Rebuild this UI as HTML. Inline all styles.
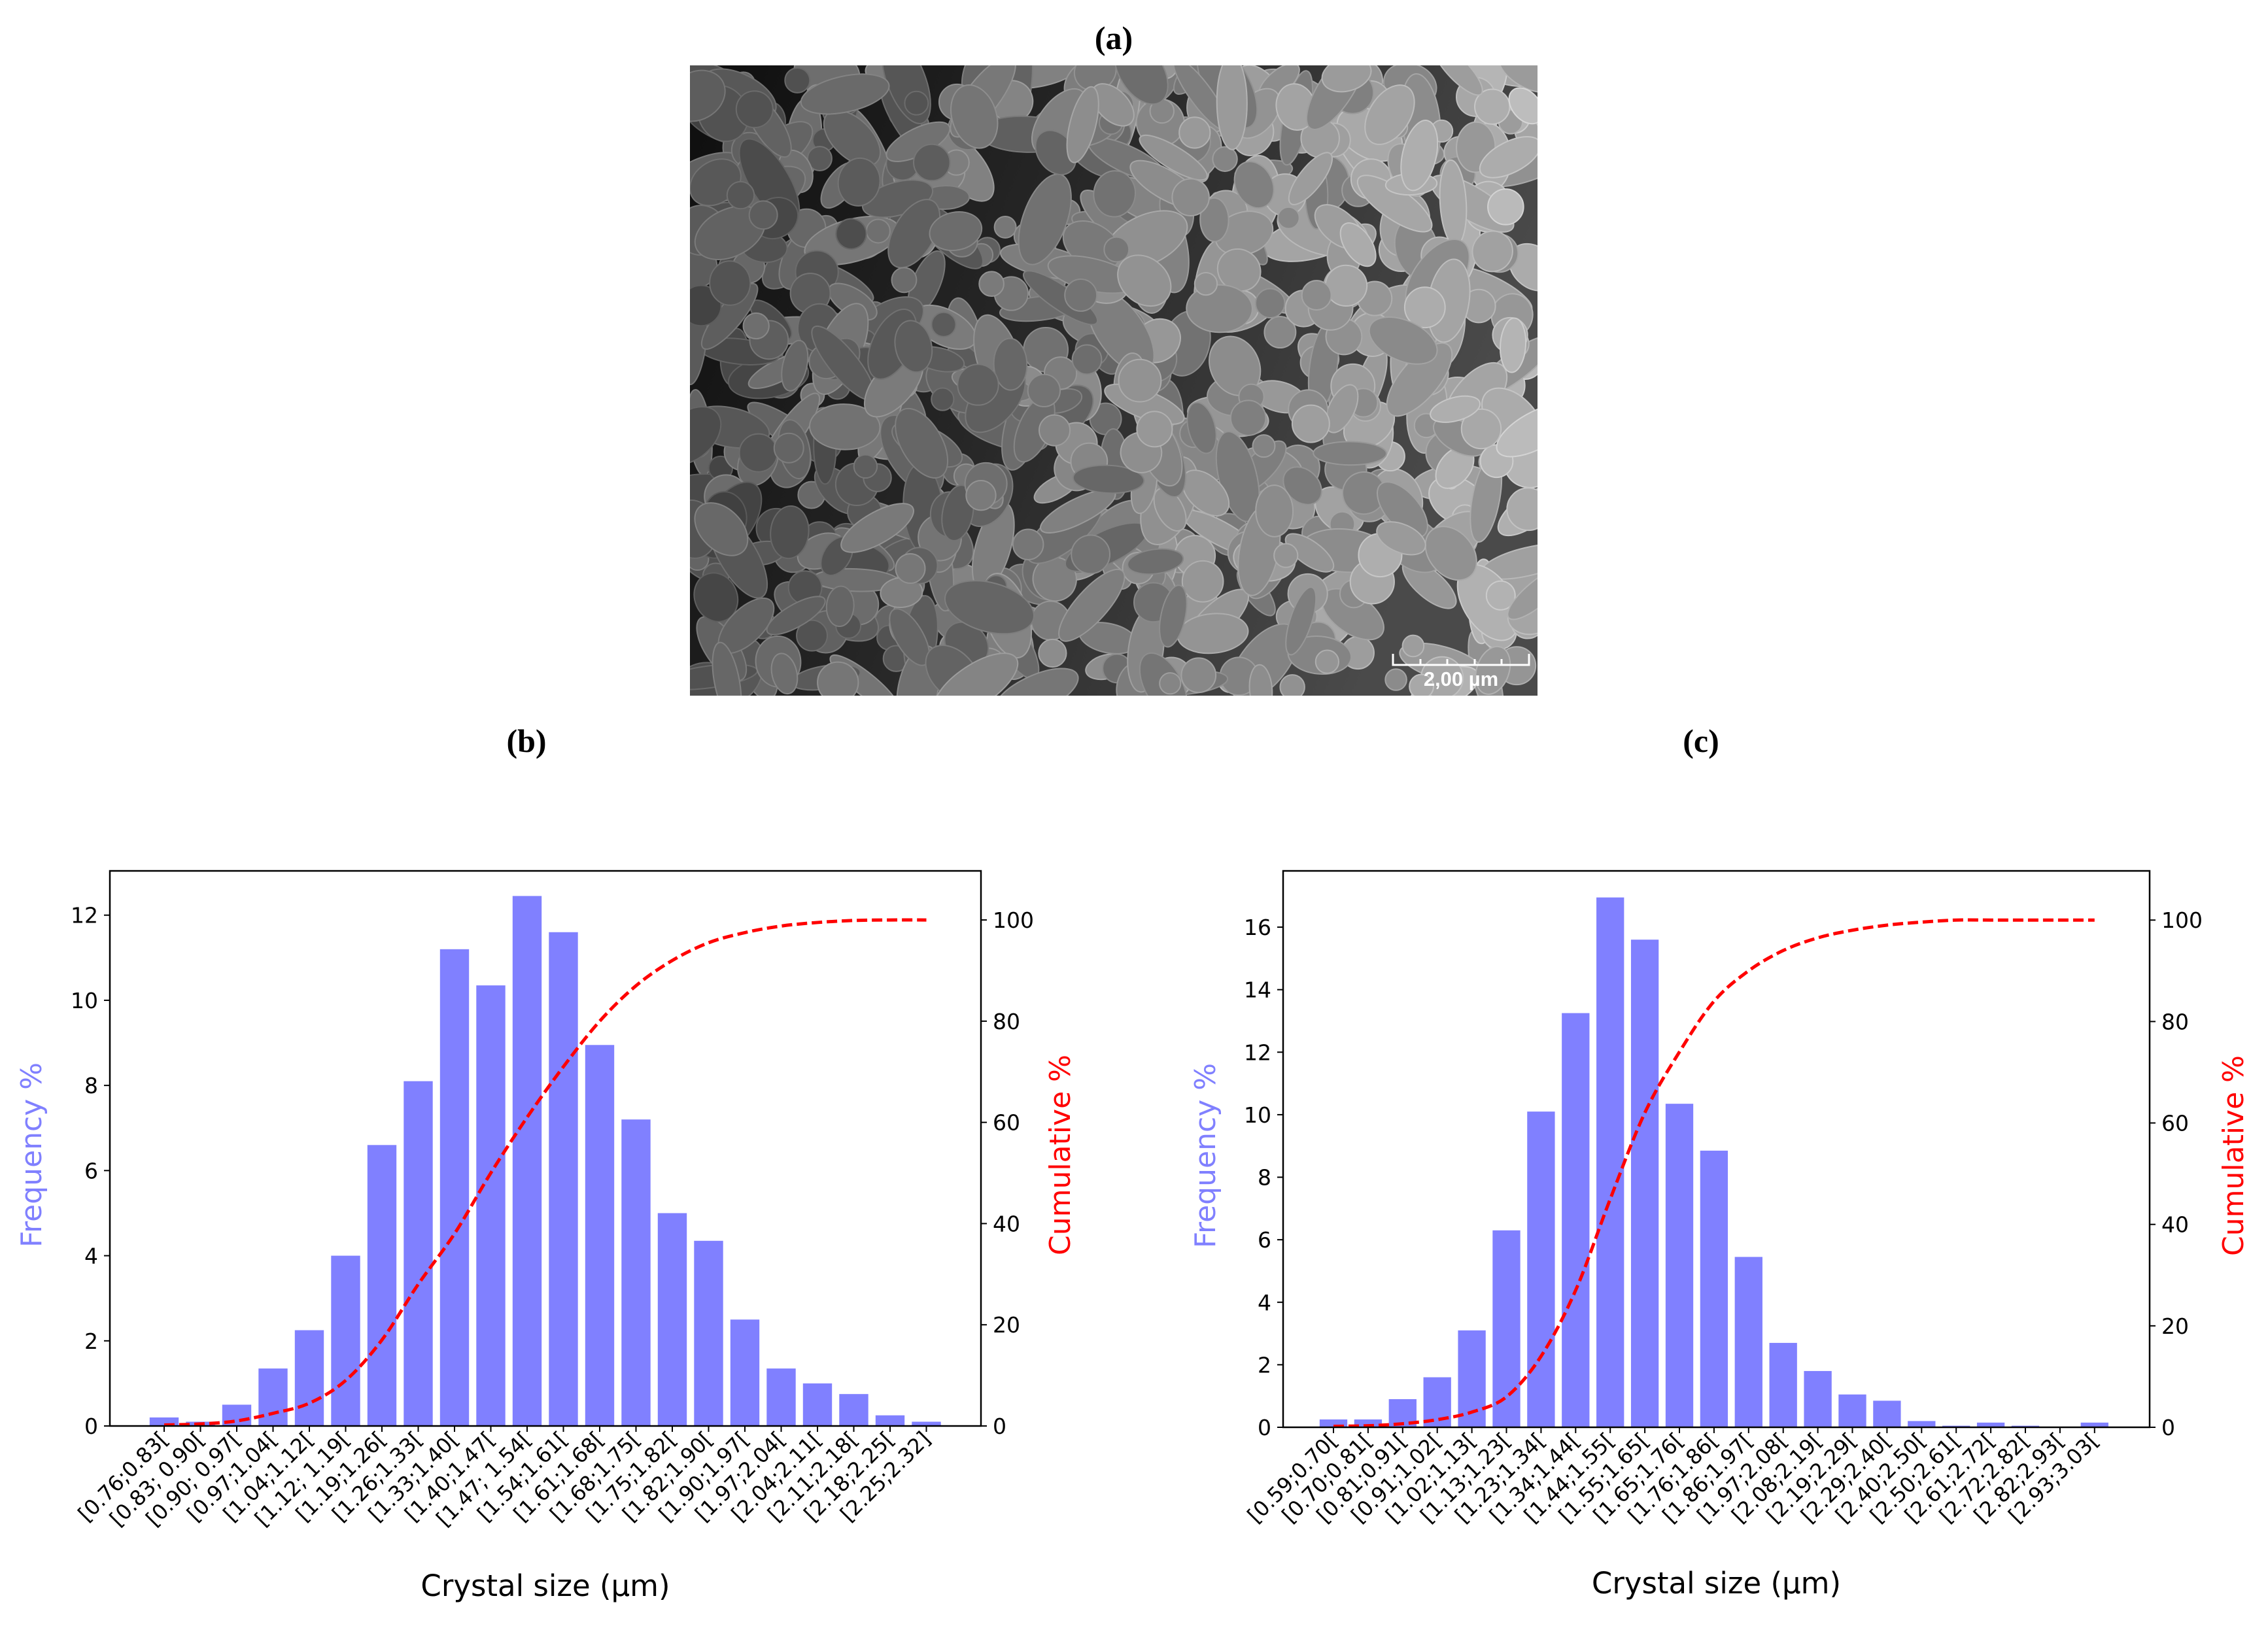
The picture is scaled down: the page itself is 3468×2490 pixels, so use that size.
<!DOCTYPE html>
<html><head><meta charset="utf-8"><style>
html,body{margin:0;padding:0;background:#fff;}
#root{position:relative;width:3468px;height:2490px;overflow:hidden;background:#fff;}
svg{position:absolute;left:0;top:0;}
</style></head><body>
<div id="root">
<svg id="fig" width="3468" height="2490" viewBox="0 0 3468 2490" xmlns="http://www.w3.org/2000/svg">
<defs>
<linearGradient id="semg" x1="0" y1="0" x2="1" y2="0.3">
<stop offset="0" stop-color="#0e0e0e"/><stop offset="0.45" stop-color="#262626"/><stop offset="1" stop-color="#4a4a4a"/>
</linearGradient>
<clipPath id="semclip"><rect x="1055" y="100" width="1296" height="964"/></clipPath>
</defs>
<text x="1703" y="75" font-family="Liberation Serif, serif" font-weight="bold" font-size="50" text-anchor="middle">(a)</text>
<text x="805" y="1150" font-family="Liberation Serif, serif" font-weight="bold" font-size="50" text-anchor="middle">(b)</text>
<text x="2601" y="1150" font-family="Liberation Serif, serif" font-weight="bold" font-size="50" text-anchor="middle">(c)</text>
<g id="sem">
<rect x="1055" y="100" width="1296" height="964" fill="url(#semg)"/>
<g id="semshapes" clip-path="url(#semclip)"></g>
<g stroke="#fff" stroke-width="3" fill="none">
<path d="M2130 1000 V1017 H2338 V1000 M2172 1017 V1008 M2213 1017 V1008 M2255 1017 V1008 M2296 1017 V1008"/>
</g>
<text x="2234" y="1049" font-family="Liberation Sans, sans-serif" font-size="31" font-weight="bold" fill="#fff" text-anchor="middle">2,00 µm</text>
</g>
<g id="chartB"></g>
<g id="chartC"></g>
</svg>
</div>
<script>
// Chart (b) data
const catsB = ["[0.76;0.83[","[0.83; 0.90[","[0.90; 0.97[","[0.97;1.04[","[1.04;1.12[","[1.12; 1.19[","[1.19;1.26[","[1.26;1.33[","[1.33;1.40[","[1.40;1.47[","[1.47; 1.54[","[1.54;1.61[","[1.61;1.68[","[1.68;1.75[","[1.75;1.82[","[1.82;1.90[","[1.90;1.97[","[1.97;2.04[","[2.04;2.11[","[2.11;2.18[","[2.18;2.25[","[2.25;2.32]"];
const freqB = [0.2,0.1,0.5,1.35,2.25,4.0,6.6,8.1,11.2,10.35,12.45,11.6,8.95,7.2,5.0,4.35,2.5,1.35,1.0,0.75,0.25,0.1];
const cumB = [0.2,0.4,1,2.5,4.5,9,17,28,38,50,61,71,80,87,92,95.5,97.5,98.8,99.5,99.9,100,100];
const yTicksB = [0,2,4,6,8,10,12];
// Chart (c) data
const catsC = ["[0.59;0.70[","[0.70;0.81[","[0.81;0.91[","[0.91;1.02[","[1.02;1.13[","[1.13;1.23[","[1.23;1.34[","[1.34;1.44[","[1.44;1.55[","[1.55;1.65[","[1.65;1.76[","[1.76;1.86[","[1.86;1.97[","[1.97;2.08[","[2.08;2.19[","[2.19;2.29[","[2.29;2.40[","[2.40;2.50[","[2.50;2.61[","[2.61;2.72[","[2.72;2.82[","[2.82;2.93[","[2.93;3.03["];
const freqC = [0.25,0.25,0.9,1.6,3.1,6.3,10.1,13.25,16.95,15.6,10.35,8.85,5.45,2.7,1.8,1.05,0.85,0.2,0.05,0.15,0.05,0,0.15];
const cumC = [0.2,0.3,0.7,1.5,3,6,14,27,45,62,74,84,90,94,96.5,98,99,99.6,100,100,100,100,100];
const yTicksC = [0,2,4,6,8,10,12,14,16];
const rTicks = [0,20,40,60,80,100];

const NS="http://www.w3.org/2000/svg";
function mk(tag,attrs,parent){const e=document.createElementNS(NS,tag);for(const k in attrs)e.setAttribute(k,attrs[k]);parent.appendChild(e);return e;}

// SEM decorative texture (deterministic)
(function(){
  const g=document.getElementById('semshapes');
  let s=7;function rnd(){s=(s*9301+49297)%233280;return s/233280;}
  for(let i=0;i<700;i++){
    const x=1055+rnd()*1296, y=100+rnd()*964;
    const t=(x-1055)/1296;
    const base=60+t*85+rnd()*45;
    const c=Math.round(base);
    const col='rgb('+c+','+c+','+c+')';
    if(rnd()<0.35){
      const r=16+rnd()*18;
      mk('circle',{cx:x,cy:y,r:r,fill:col,stroke:'rgb('+(c+25)+','+(c+25)+','+(c+25)+')','stroke-width':2},g);
    } else {
      const rx=30+rnd()*45, ry=16+rnd()*22, a=rnd()*180;
      mk('ellipse',{cx:x,cy:y,rx:rx,ry:ry,fill:col,stroke:'rgb('+(c+25)+','+(c+25)+','+(c+25)+')','stroke-width':2,transform:'rotate('+a+' '+x+' '+y+')'},g);
    }
  }
})();

function drawChart(gid, cfg){
  const g=document.getElementById(gid);
  const {L,R,T,B,ymax,cats,freq,cum,yTicks,x0,dx}=cfg;
  const ys=v=>B-(v/ymax)*(B-T);
  const yr=v=>B-(v/109.7)*(B-T);
  const xs=i=>x0+i*dx;
  const font='DejaVu Sans, Liberation Sans, sans-serif';
  freq.forEach((v,i)=>{
    const bw=dx*0.8;
    const r=mk('rect',{x:xs(i)-bw/2,y:ys(v),width:bw,height:B-ys(v),fill:'#8080ff'},g);
    
    
  });
  const pts=cum.map((v,i)=>[xs(i),yr(v)]);
  let d='M'+pts[0][0]+' '+pts[0][1];
  for(let i=0;i<pts.length-1;i++){
    const p0=pts[Math.max(0,i-1)],p1=pts[i],p2=pts[i+1],p3=pts[Math.min(pts.length-1,i+2)];
    d+=' C'+(p1[0]+(p2[0]-p0[0])/6)+' '+(p1[1]+(p2[1]-p0[1])/6)+' '+(p2[0]-(p3[0]-p1[0])/6)+' '+(p2[1]-(p3[1]-p1[1])/6)+' '+p2[0]+' '+p2[1];
  }
  const line=mk('path',{d:d,fill:'none',stroke:'#ff0000','stroke-width':5,'stroke-dasharray':'16,7'},g);
  
  
  const fr=mk('rect',{x:L,y:T,width:R-L,height:B-T,fill:'none',stroke:'#000','stroke-width':2.5},g);
  
  
  yTicks.forEach(v=>{
    mk('line',{x1:L-9,x2:L,y1:ys(v),y2:ys(v),stroke:'#000','stroke-width':2},g);
    const t=mk('text',{x:L-18,y:ys(v)+12,'font-family':font,'font-size':33,'text-anchor':'end',fill:'#000'},g);
    t.textContent=v;
    
    
  });
  rTicks.forEach(v=>{
    mk('line',{x1:R,x2:R+9,y1:yr(v),y2:yr(v),stroke:'#000','stroke-width':2},g);
    const t=mk('text',{x:R+18,y:yr(v)+12,'font-family':font,'font-size':33,'text-anchor':'start',fill:'#000'},g);
    t.textContent=v;
    
    
  });
  cats.forEach((c,i)=>{
    const x=xs(i);
    mk('line',{x1:x,x2:x,y1:B,y2:B+9,stroke:'#000','stroke-width':2},g);
    const t=mk('text',{x:x+8,y:B+22,'font-family':font,'font-size':32,'text-anchor':'end',fill:'#000',transform:'rotate(-45 '+(x+8)+' '+(B+22)+') scale(1,1.12)'},g);
    t.setAttribute('transform','rotate(-45 '+(x+8)+' '+(B+22)+')');
    t.textContent=c;
    
    
  });
  const xt=mk('text',{x:(L+R)/2,y:cfg.xtY,'font-family':font,'font-size':45,'text-anchor':'middle',fill:'#000'},g);
  xt.textContent='Crystal size (µm)';
  
  
  const cy=(T+B)/2+10;
  const yt=mk('text',{x:cfg.ylX,y:cy,'font-family':font,'font-size':44,'text-anchor':'middle',fill:'#8080ff',transform:'rotate(-90 '+cfg.ylX+' '+cy+')'},g);
  yt.textContent='Frequency %';
  
  
  const y2=mk('text',{x:cfg.yrX,y:cy,'font-family':font,'font-size':44,'text-anchor':'middle',fill:'#ff0000',transform:'rotate(-90 '+cfg.yrX+' '+cy+')'},g);
  y2.textContent='Cumulative %';
  
  
}
drawChart('chartB',{L:168,R:1500,T:1332,B:2181,ymax:13.04,cats:catsB,freq:freqB,cum:cumB,yTicks:yTicksB,x0:251,dx:55.5,xtY:2441,ylX:63,yrX:1636});
drawChart('chartC',{L:1962,R:3287,T:1332,B:2183,ymax:17.8,cats:catsC,freq:freqC,cum:cumC,yTicks:yTicksC,x0:2039,dx:52.9,xtY:2437,ylX:1858,yrX:3430});
</script>
</body></html>
